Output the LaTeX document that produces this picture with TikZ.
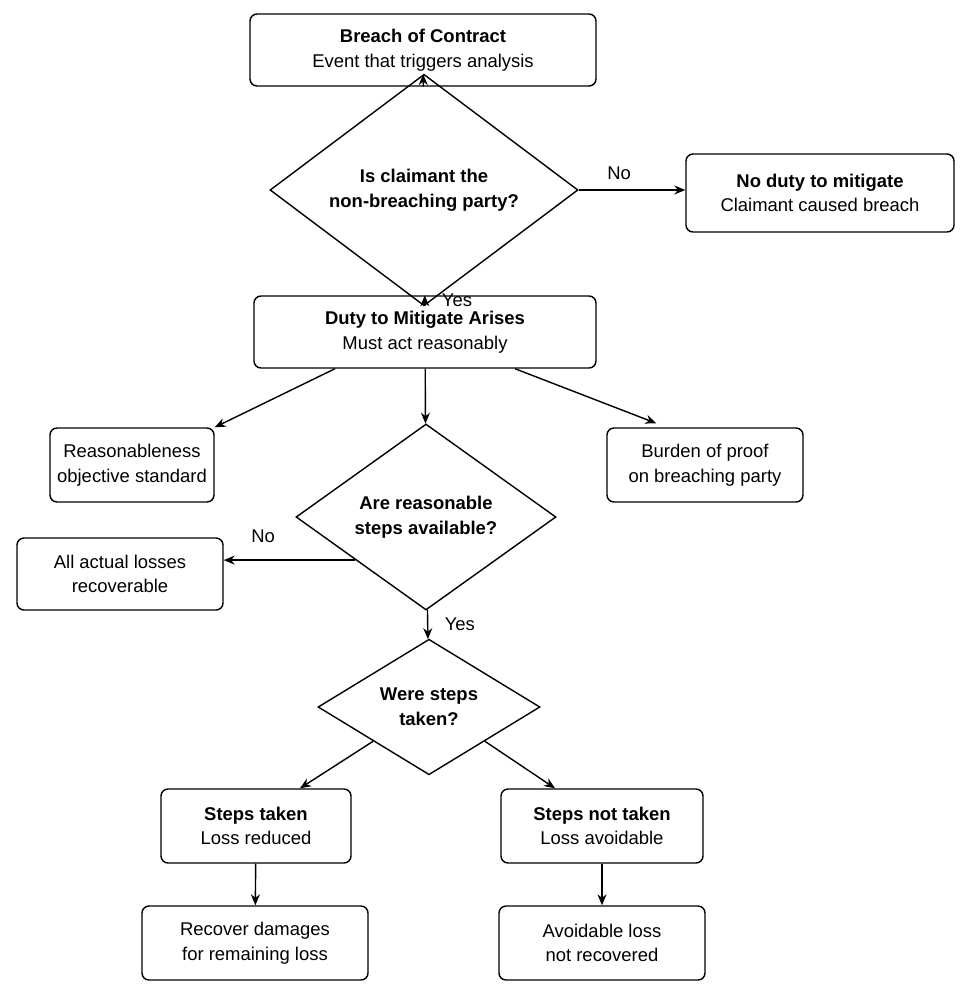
\documentclass[tikz,border=0pt]{standalone}
\usepackage{fontspec}
\setmainfont{Liberation Sans}
\usetikzlibrary{arrows.meta,shapes.geometric,calc}
\tikzset{
  box/.style={draw, rounded corners=4pt, line width=0.8pt, align=center, inner sep=0pt, font=\fontsize{10.5}{14}\selectfont},
  dec/.style={draw, diamond, line width=0.8pt, align=center, inner sep=0pt, font=\bfseries\fontsize{10.5}{14}\selectfont},
  arr/.style={-{Stealth[length=2.2mm,width=1.8mm]}, line width=0.8pt},
  lbl/.style={font=\fontsize{10.5}{13}\selectfont}
}
\begin{document}
\begin{tikzpicture}[x=0.02cm,y=-0.02cm]
  \useasboundingbox (0,0) rectangle (971,998);
  % boxes
  \node[box, minimum width=346*0.02cm, minimum height=72*0.02cm] (breach) at (423,50) {\textbf{Breach of Contract}\\Event that triggers analysis};
  \node[dec, minimum width=308*0.02cm, minimum height=141*0.02cm] (claim) at (424,190) {Is claimant the\\non-breaching party?};
  \node[box, minimum width=268*0.02cm, minimum height=78*0.02cm] (noduty) at (820,193) {\textbf{No duty to mitigate}\\Claimant caused breach};
  \node[box, minimum width=342*0.02cm, minimum height=72*0.02cm] (duty) at (425,332) {\textbf{Duty to Mitigate Arises}\\Must act reasonably};
  \node[box, minimum width=164*0.02cm, minimum height=74*0.02cm] (reason) at (132,465) {Reasonableness\\objective standard};
  \node[box, minimum width=196*0.02cm, minimum height=74*0.02cm] (burden) at (705,465) {Burden of proof\\on breaching party};
  \node[dec, minimum width=260*0.02cm, minimum height=186*0.02cm] (avail) at (426,517) {Are reasonable\\steps available?};
  \node[box, minimum width=206*0.02cm, minimum height=72*0.02cm] (allloss) at (120,574) {All actual losses\\recoverable};
  \node[dec, minimum width=222*0.02cm, minimum height=134*0.02cm] (taken) at (429,707) {Were steps\\taken?};
  \node[box, minimum width=190*0.02cm, minimum height=74*0.02cm] (yes) at (256,826) {\textbf{Steps taken}\\Loss reduced};
  \node[box, minimum width=202*0.02cm, minimum height=74*0.02cm] (notyes) at (602,826) {\textbf{Steps not taken}\\Loss avoidable};
  \node[box, minimum width=226*0.02cm, minimum height=74*0.02cm] (recover) at (255,943) {Recover damages\\for remaining loss};
  \node[box, minimum width=206*0.02cm, minimum height=74*0.02cm] (avoid) at (602,943) {Avoidable loss\\not recovered};
  % connectors
  \draw[arr] (breach) -- (claim);
  \draw[arr] (claim.east) -- (noduty.west |- claim.east) node[lbl, pos=0.38, above=2pt] {No};
  \draw[arr] (claim) -- (duty) node[lbl, midway, right=6pt] {Yes};
  \draw[arr] ($(duty.south)+(-90,0)$) -- (reason.north east);
  \draw[arr] (duty) -- (avail);
  \draw[arr] ($(duty.south)+(90,0)$) -- ($(burden.north west)+(50,-4)$);
  \coordinate (leftpt) at ($(avail.west)!0.46!(avail.south)$);
  \draw[arr] (leftpt) -- (leftpt -| allloss.east) node[lbl, pos=0.7, above=6pt] {No};
  \draw[arr] (avail) -- (taken) node[lbl, midway, right=6pt] {Yes};
  \draw[arr] ($(taken.west)!0.5!(taken.south)$) -- ($(yes.north)+(44,0)$);
  \draw[arr] ($(taken.east)!0.5!(taken.south)$) -- ($(notyes.north)+(-47,0)$);
  \draw[arr] (yes) -- (recover);
  \draw[arr] (notyes) -- (avoid);
\end{tikzpicture}
\end{document}
